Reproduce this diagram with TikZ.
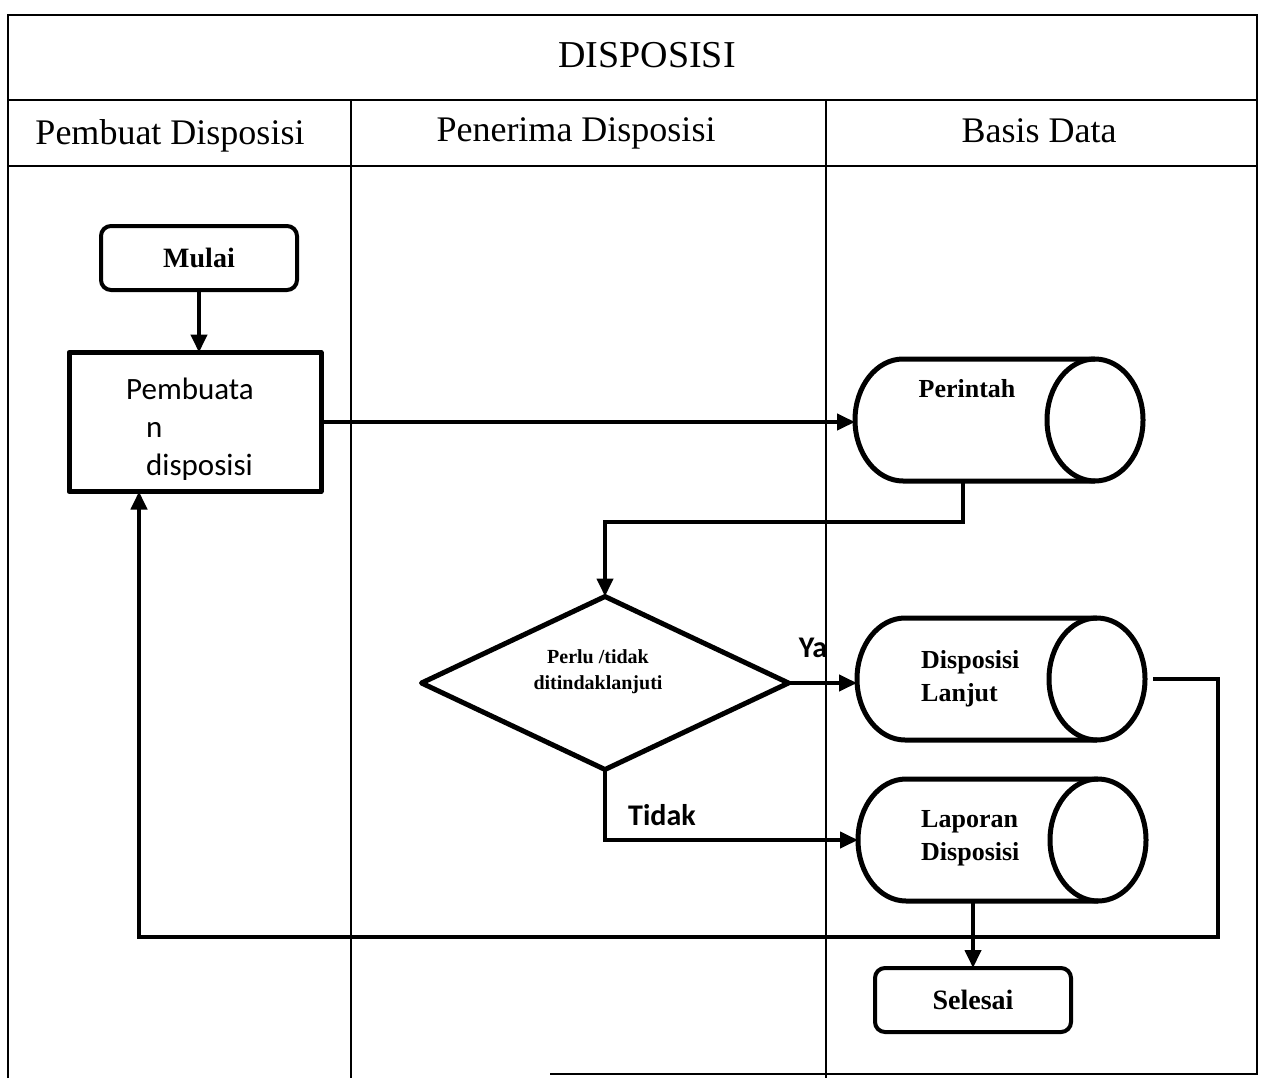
\documentclass[tikz,border=0pt]{standalone}
\usepackage{fontspec}
\setmainfont{Liberation Serif}
\newfontfamily\calibri{Carlito}
\usetikzlibrary{shapes.geometric,arrows.meta}

% horizontal database drum drawn round an invisible node
\newcommand\dbdrum[1]{%
  \draw[boxline] ([xshift=48pt]#1.north west) -- ([xshift=-48pt]#1.north east)
    arc[start angle=90,end angle=-90,x radius=48pt,y radius=61pt]
    -- ([xshift=48pt]#1.south west)
    arc[start angle=270,end angle=90,x radius=48pt,y radius=61pt] -- cycle;
  \draw[boxline] ([xshift=-48pt]#1.north east)
    arc[start angle=90,end angle=270,x radius=48pt,y radius=61pt];}

\tikzset{
  lane/.style={line width=1.8pt},
  boxline/.style={line width=5pt,line join=round},
  flow/.style={line width=4pt,-{Triangle[length=18pt,width=16pt]}},
  terminal/.style={draw,line width=4pt,rounded corners=10pt,minimum width=196pt,
    minimum height=64pt,inner sep=0pt,outer sep=0pt,font=\fontsize{28}{32}\selectfont\bfseries},
  process/.style={draw,boxline,minimum width=252pt,minimum height=139pt,
    inner sep=0pt,outer sep=0pt},
  proctext/.style={align=left,inner sep=0pt,font=\calibri\fontsize{31}{38}\selectfont},
  drum/.style={minimum width=288pt,minimum height=122pt,inner sep=0pt,outer sep=0pt},
  decision/.style={draw,boxline,diamond,minimum width=367pt,minimum height=173pt,
    inner sep=0pt,outer sep=0pt},
  dectext/.style={align=center,inner sep=0pt,font=\fontsize{20}{26}\selectfont\bfseries},
  drumtext/.style={align=left,font=\fontsize{26}{33}\selectfont\bfseries,inner sep=0pt},
  header/.style={font=\fontsize{36}{40}\selectfont,inner sep=0pt},
  branch/.style={font=\calibri\fontsize{30}{34}\selectfont\bfseries,inner sep=0pt}
}

\begin{document}
\begin{tikzpicture}[x=1pt,y=-1pt]
\useasboundingbox (0,0) rectangle (1265,1078);

% swimlane frame
\draw[lane] (8,1078) -- (8,15) -- (1257,15) -- (1257,1074) -- (550,1074);
\draw[lane] (8,100) -- (1257,100);
\draw[lane] (8,166) -- (1257,166);
\draw[lane] (351,100) -- (351,1078);
\draw[lane] (826,100) -- (826,1078);

\node[header,font=\fontsize{38}{42}\selectfont] (title) at (647,55) {DISPOSISI};
\node[header] (h1) at (170,136) {Pembuat Disposisi};
\node[header] (h2) at (576,133) {Penerima Disposisi};
\node[header] (h3) at (1039,131) {Basis Data};

% flow elements
\node[terminal] (mulai) at (199,258) {Mulai};
\node[process] (buat) at (195,422) {};
\node[proctext] (tbuat) at (190,429) {Pembuata\\\hspace*{20pt}n\\\hspace*{20pt}disposisi};

\node[drum] (perintah) at (999,420) {};
\dbdrum{perintah}
\node[drumtext] (tperintah) at (967,389) {Perintah};

\node[decision] (dec) at (605,683) {};
\node[dectext] (tdec) at (598,672) {Perlu /tidak\\ditindaklanjuti};

\node[drum] (lanjut) at (1001,679) {};
\dbdrum{lanjut}
\node[drumtext,anchor=west] (tlanjut) at (921,679) {Disposisi\\Lanjut};

\node[drum] (laporan) at (1002,840) {};
\dbdrum{laporan}
\node[drumtext,anchor=west] (tlaporan) at (921,838) {Laporan\\Disposisi};

\node[terminal] (selesai) at (973,1000) {Selesai};

\node[branch] (ya) at (813,648) {Ya};
\node[branch] (tidak) at (662,815) {Tidak};

\coordinate (ret) at (1218,937);

% connectors
\draw[flow] (mulai.south) -- (mulai.south |- buat.north);
\draw[flow] (buat.east) -- (buat.east -| perintah.west);
\draw[flow] ([xshift=-36pt]perintah.south) -- ++(0,41) -| (dec.north);
\draw[flow] (dec.east) -- (dec.east -| lanjut.west);
\draw[flow] (dec.south) |- (laporan.west);
\draw[flow] ([xshift=8pt]lanjut.east) -| (ret) -| ([xshift=-56pt]buat.south);
\draw[flow] (selesai.north |- laporan.south) -- (selesai.north);
\end{tikzpicture}
\end{document}
